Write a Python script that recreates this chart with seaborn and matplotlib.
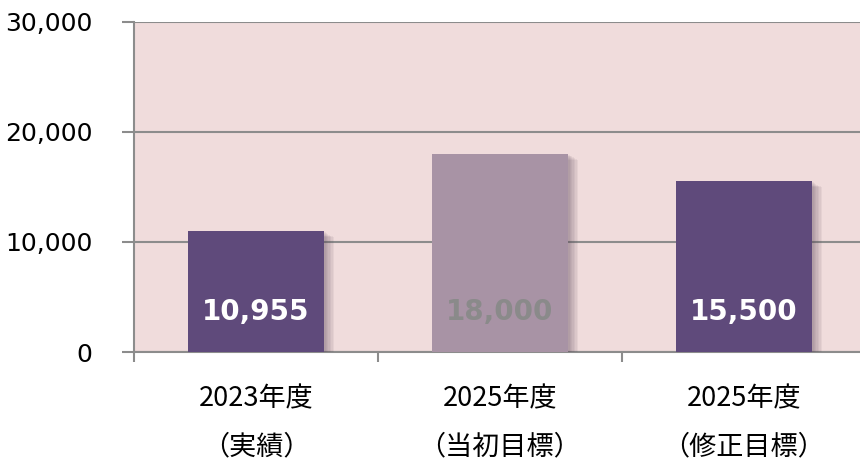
import matplotlib
matplotlib.use("Agg")
import matplotlib.pyplot as plt
import matplotlib.patheffects as pe
from matplotlib.ticker import FuncFormatter, FixedLocator
import seaborn as sns
import pandas as pd

# 年度別の数値
categories = ["2023年度\n（実績）", "2025年度\n（当初目標）", "2025年度\n（修正目標）"]
values = [10955, 18000, 15500]
value_labels = ["10,955", "18,000", "15,500"]
bar_colors = ["#5F4A7B", "#A893A5", "#5F4A7B"]
label_colors = ["#FFFFFF", "#8A8A8A", "#FFFFFF"]
y_ticks = [0, 10000, 20000, 30000]

sns.set_theme(style="white")
plt.rcParams["font.family"] = ["DejaVu Sans", "Noto Sans CJK JP"]

df = pd.DataFrame({"category": categories, "value": values})

fig = plt.figure(figsize=(8.6, 4.62), dpi=100)
ax = fig.add_axes([134 / 860, 110 / 462, 732 / 860, 330 / 462])
ax.set_facecolor("#F0DCDC")

sns.barplot(data=df, x="category", y="value", hue="category", palette=bar_colors,
            width=0.56, legend=False, ax=ax, saturation=1, zorder=3)

# soft drop shadow built from stacked, slightly offset translucent copies
shadow = [pe.SimplePatchShadow(offset=(k, -k * 0.6), shadow_rgbFace="#5A4658", alpha=0.07)
          for k in range(1, 8)] + [pe.Normal()]
for patch in ax.patches:
    patch.set_edgecolor("none")
    patch.set_path_effects(shadow)

for i, (lab, col) in enumerate(zip(value_labels, label_colors)):
    ax.text(i, 3600, lab, ha="center", va="center", color=col,
            fontsize=20, fontweight="bold", family="DejaVu Sans", zorder=5)

ax.set_xlim(-0.5, 2.5)
ax.set_ylim(0, 30000)
ax.yaxis.set_major_locator(FixedLocator(y_ticks))
ax.yaxis.set_major_formatter(FuncFormatter(lambda v, p: f"{int(v):,}"))
ax.grid(axis="y", color="#8C8C8C", linewidth=1.5, zorder=1)
ax.set_axisbelow(True)

for s in ["top", "right"]:
    ax.spines[s].set_visible(False)
for s in ["left", "bottom"]:
    ax.spines[s].set_color("#8C8C8C")
    ax.spines[s].set_linewidth(1.5)

ax.tick_params(axis="y", which="major", left=True, length=9, width=1.5, color="#8C8C8C",
               labelsize=18, labelcolor="#000000", pad=21)
ax.set_xticks([-0.5, 0.5, 1.5, 2.5], minor=True)
ax.tick_params(axis="x", which="minor", bottom=True, length=7, width=1.5, color="#8C8C8C")
ax.tick_params(axis="x", which="major", length=0, labelsize=19.5, labelcolor="#000000", pad=24)
for t in ax.get_xticklabels():
    t.set_family(["Noto Sans CJK JP", "DejaVu Sans"])
    t.set_linespacing(2.02)
    t.set_verticalalignment("top")

ax.set_xlabel("")
ax.set_ylabel("")

fig.savefig("out.png", dpi=100)
